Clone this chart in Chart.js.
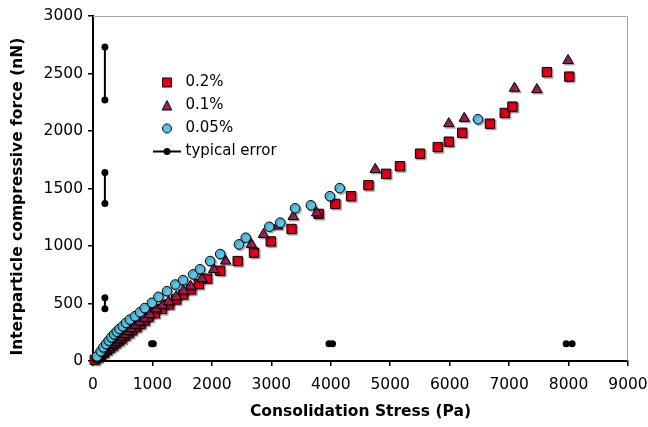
<!DOCTYPE html>
<html>
<head>
<meta charset="utf-8">
<script src="https://cdn.jsdelivr.net/npm/chart.js@4.4.1/dist/chart.umd.min.js"></script>
<style>
  html, body { margin: 0; padding: 0; background: #fff; }
</style>
</head>
<body>
<canvas id="graf" width="648" height="427"></canvas>
<script>
// 0.2% series (squares)
const stress02 = [30, 80, 130, 180, 230, 280, 330, 380, 430, 480, 540, 600, 660, 730, 800, 870, 934, 1040, 1160, 1280, 1400, 1519, 1650, 1780, 1921, 2140, 2434, 2708, 2990, 3340, 3796, 4076, 4341, 4633, 4932, 5164, 5502, 5799, 5985, 6211, 6677, 6926, 7056, 7635, 8012]
const force02 = [10, 30, 52, 72, 93, 113, 134, 154, 175, 195, 220, 243, 267, 294, 322, 352, 384, 415, 453, 492, 535, 578, 622, 668, 716, 785, 869, 942, 1040, 1148, 1279, 1366, 1433, 1529, 1628, 1694, 1803, 1860, 1907, 1985, 2064, 2157, 2212, 2512, 2473]
// 0.1% series (triangles)
const stress01 = [60, 110, 160, 210, 260, 310, 360, 410, 460, 520, 580, 640, 710, 780, 860, 950, 1064, 1170, 1272, 1400, 1520, 1640, 1830, 2030, 2230, 2664, 2867, 3103, 3367, 3762, 4747, 5985, 6245, 7090, 7466, 7990]
const force01 = [28, 50, 72, 95, 117, 140, 162, 185, 207, 232, 258, 283, 312, 340, 372, 405, 453, 485, 515, 560, 610, 651, 715, 796, 869, 1014, 1101, 1174, 1256, 1288, 1666, 2064, 2110, 2372, 2360, 2613]
// 0.05% series (circles)
const stress005 = [67, 130, 175, 220, 265, 310, 355, 400, 445, 500, 555, 620, 705, 790, 870, 990, 1100, 1245, 1385, 1515, 1685, 1800, 1970, 2140, 2455, 2570, 2965, 3150, 3400, 3665, 3985, 4150, 6475]
const force005 = [40, 84, 119, 148, 177, 206, 232, 255, 279, 302, 331, 360, 389, 424, 460, 506, 558, 607, 665, 703, 753, 798, 869, 930, 1014, 1072, 1167, 1203, 1328, 1354, 1433, 1503, 2102]
// typical error bars: start and end of each bar
const errX1 = [200, 200, 200, 985, 3970, 7960]
const errX2 = [200, 200, 200, 1015, 4030, 8060]
const errY1 = [2270, 1370, 455, 150, 150, 150]
const errY2 = [2730, 1640, 550, 150, 150, 150]

const seriesLabels = ["0.2%", "0.1%", "0.05%", "typical error"]
const xTitle = "Consolidation Stress (Pa)"
// trailing spaces nudge the rotated title a little lower, like the original
const yTitle = "Interparticle compressive force (nN)   "

const font = "'DejaVu Sans', Verdana, sans-serif"
const red = '#e2001a'
const plum = '#9b235a'
const sky = '#5ac3e6'

function pts(xs, ys) {
    return xs.map((x, i) => ({x: x, y: ys[i]}))
}

// little pictures for the legend keys
function keyCanvas(kind, fill) {
    const c = document.createElement('canvas')
    const g = c.getContext('2d')
    if (kind == 'line') {
        c.width = 28; c.height = 9
        g.strokeStyle = '#000'; g.lineWidth = 2
        g.beginPath(); g.moveTo(0, 4.5); g.lineTo(28, 4.5); g.stroke()
        g.fillStyle = '#000'
        g.beginPath(); g.arc(14, 4.5, 3.5, 0, Math.PI * 2); g.fill()
        return c
    }
    c.width = 12; c.height = 12
    g.fillStyle = fill; g.strokeStyle = '#000'; g.lineWidth = 1
    g.beginPath()
    if (kind == 'rect') g.rect(1.5, 1.5, 9, 9)
    else if (kind == 'triangle') { g.moveTo(6, 1); g.lineTo(10.8, 10.5); g.lineTo(1.2, 10.5); g.closePath() }
    else g.arc(6, 6, 4.5, 0, Math.PI * 2)
    g.fill(); g.stroke()
    return c
}
const keys = [keyCanvas('rect', red), keyCanvas('triangle', plum), keyCanvas('circle', sky), keyCanvas('line')]

const datasets = [
    {label: seriesLabels[0], data: pts(stress02, force02), pointStyle: 'rect', pointRadius: 6.6,
     pointBackgroundColor: red, pointBorderColor: '#000', pointBorderWidth: 1, order: 3, clip: false},
    {label: seriesLabels[1], data: pts(stress01, force01), pointStyle: 'triangle', pointRadius: 6,
     pointBackgroundColor: plum, pointBorderColor: '#000', pointBorderWidth: 1, order: 2, clip: false},
    {label: seriesLabels[2], data: pts(stress005, force005), pointStyle: 'circle', pointRadius: 4.8,
     pointBackgroundColor: sky, pointBorderColor: '#000', pointBorderWidth: 1, order: 1, clip: false}
]
for (let i = 0; i < errX1.length; i++) {
    datasets.push({
        label: i == 0 ? seriesLabels[3] : '',
        data: pts([errX1[i], errX2[i]], [errY1[i], errY2[i]]),
        showLine: true, borderColor: '#000', borderWidth: 2,
        pointStyle: 'circle', pointRadius: 3.5, pointBackgroundColor: '#000', pointBorderWidth: 0,
        order: 0, clip: false
    })
}

// grey top/right frame of the plot area
const frame = {
    id: 'frame',
    beforeDatasetsDraw(chart) {
        const a = chart.chartArea, c = chart.ctx
        c.save()
        c.strokeStyle = '#a6a6a6'; c.lineWidth = 1
        c.beginPath()
        c.moveTo(a.left, a.top + 0.5); c.lineTo(a.right - 0.5, a.top + 0.5); c.lineTo(a.right - 0.5, a.bottom)
        c.stroke()
        c.restore()
    }
}
// move the legend into the upper left of the plot
const legendSpot = {
    id: 'legendSpot',
    afterLayout(chart) {
        const lg = chart.legend, a = chart.chartArea
        lg.left = a.left + 55
        lg.top = a.top + 51
        lg.right = lg.left + lg.width
        lg.bottom = lg.top + a.height
    }
}
// soft drop shadow under the markers
const shadow = {
    id: 'shadow',
    beforeDatasetDraw(chart, args) {
        if (args.index > 2) return
        const c = chart.ctx
        c.save()
        c.shadowColor = 'rgba(0,0,0,0.3)'
        c.shadowOffsetX = 1.5; c.shadowOffsetY = 1.5; c.shadowBlur = 1
    },
    afterDatasetDraw(chart, args) {
        if (args.index > 2) return
        chart.ctx.restore()
    }
}

const plain = v => String(v)

new Chart(document.getElementById('graf'), {
    type: 'scatter',
    data: {datasets: datasets},
    plugins: [frame, legendSpot, shadow],
    options: {
        responsive: false,
        animation: false,
        layout: {padding: {left: 0, top: 16, right: 20, bottom: 0}},
        plugins: {
            tooltip: {enabled: false},
            legend: {
                position: 'chartArea',
                align: 'start',
                labels: {
                    usePointStyle: true,
                    pointStyleWidth: 22,
                    padding: 8,
                    color: '#000',
                    font: {family: font, size: 15},
                    generateLabels(chart) {
                        const items = Chart.defaults.plugins.legend.labels.generateLabels(chart)
                        items.forEach(it => { if (it.datasetIndex < 4) it.pointStyle = keys[it.datasetIndex] })
                        return items
                    },
                    filter: item => item.text != '',
                    sort: (a, b) => a.datasetIndex - b.datasetIndex
                }
            }
        },
        scales: {
            x: {
                type: 'linear', min: 0, max: 9000,
                ticks: {stepSize: 1000, callback: plain, color: '#000', font: {family: font, size: 15.5}, padding: 10, maxRotation: 0, autoSkip: false},
                grid: {drawOnChartArea: false, tickLength: 5, color: '#000', lineWidth: 1.5},
                border: {color: '#000', width: 2},
                title: {display: true, text: xTitle, color: '#000', font: {family: font, size: 15.5, weight: 'bold'}, padding: {top: 0, bottom: 6}},
                afterFit: s => { s.height = 66; s.paddingRight = 0 }
            },
            y: {
                type: 'linear', min: 0, max: 3000,
                ticks: {stepSize: 500, callback: plain, color: '#000', font: {family: font, size: 15.5}, padding: 5},
                grid: {drawOnChartArea: false, tickLength: 5, color: '#000', lineWidth: 1.5},
                border: {color: '#000', width: 2},
                title: {display: true, text: yTitle, color: '#000', font: {family: font, size: 15.5, weight: 'bold'}, padding: {top: 9, bottom: 0}},
                afterFit: s => { s.width = 93 }
            }
        }
    }
})
</script>
</body>
</html>
